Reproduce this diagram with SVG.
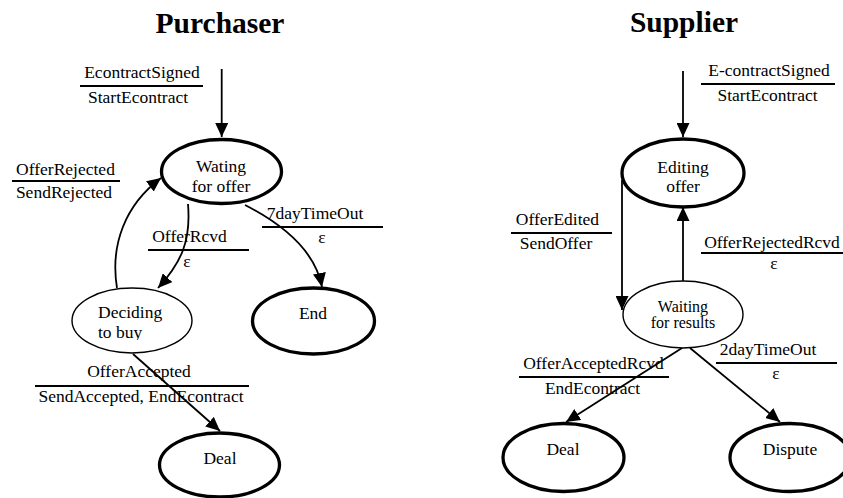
<svg xmlns="http://www.w3.org/2000/svg" width="843" height="498" viewBox="0 0 843 498">
<style>
text{font-family:"Liberation Serif","Times New Roman",serif;font-size:17.5px;fill:#000}
.title{font-size:29.5px;font-weight:bold;text-anchor:middle}
.c{text-anchor:middle}
.thick{fill:#fff;stroke:#000;stroke-width:3.3}
.thin{fill:#fff;stroke:#000;stroke-width:1.4}
.edge{fill:none;stroke:#000;stroke-width:1.8;marker-end:url(#ah)}
.bar{stroke:#000;stroke-width:2}
</style>
<defs>
<marker id="ah" markerUnits="userSpaceOnUse" markerWidth="15" markerHeight="13" refX="14" refY="6.5" orient="auto">
<path d="M0,0 L14,6.5 L0,13 z" fill="#000"/>
</marker>
<clipPath id="clipbuy"><rect x="60" y="280" width="150" height="60"/></clipPath>
</defs>
<rect width="843" height="498" fill="#fff"/>
<text class="title" x="220" y="33">Purchaser</text>
<text class="title" x="684" y="32">Supplier</text>

<g id="connectors">
<path class="edge" d="M221.7,69 L221.7,137"/>
<path class="edge" d="M188,204 C191,240 182,262 158,288"/>
<path class="edge" d="M117,288 C110,245 125,205 161,178"/>
<path class="edge" d="M245,205 C290,228 316,255 322,287"/>
<path class="edge" d="M133,354 L220,431"/>
<path class="edge" d="M683,71 L683,137"/>
<path class="edge" d="M622,180 L622,310"/>
<path class="edge" d="M683,281 L683,207"/>
<path class="edge" d="M682,348 L566,422"/>
<path class="edge" d="M690,348 L780,422"/>
</g>

<g id="node-wating">
<ellipse class="thick" cx="221.5" cy="171.5" rx="60" ry="32"/>
<text class="c" x="221" y="172">Wating</text>
<text class="c" x="221" y="192">for offer</text>
</g>
<g id="node-deciding">
<ellipse class="thin" cx="132" cy="320.5" rx="60" ry="32.5"/>
<g clip-path="url(#clipbuy)">
<text x="98" y="318">Deciding</text>
<text x="98" y="338">to buy</text>
</g>
</g>
<g id="node-end">
<ellipse class="thick" cx="313.5" cy="321" rx="61" ry="33"/>
<text class="c" x="313" y="319">End</text>
</g>
<g id="node-deal-p">
<ellipse class="thick" cx="219.5" cy="465" rx="60" ry="32"/>
<text class="c" x="220" y="464">Deal</text>
</g>

<g id="node-editing">
<ellipse class="thick" cx="683" cy="173" rx="61" ry="34"/>
<text class="c" x="683" y="173">Editing</text>
<text class="c" x="683" y="192">offer</text>
</g>
<g id="node-waiting">
<ellipse class="thin" cx="683" cy="314.5" rx="60" ry="33.5"/>
<text class="c" x="683" y="312" style="font-size:16px">Waiting</text>
<text class="c" x="683" y="328" style="font-size:16px">for results</text>
</g>
<g id="node-deal-s">
<ellipse class="thick" cx="563.5" cy="457.5" rx="60.5" ry="34"/>
<text class="c" x="563" y="455">Deal</text>
</g>
<g id="node-dispute">
<ellipse class="thick" cx="790" cy="457.5" rx="60" ry="34"/>
<text class="c" x="790" y="455">Dispute</text>
</g>

<g id="labels">
<text class="c" x="142" y="78">EcontractSigned</text>
<line class="bar" x1="80" y1="86" x2="203" y2="86"/>
<text class="c" x="138" y="103">StartEcontract</text>

<text class="c" x="65.5" y="175">OfferRejected</text>
<line class="bar" x1="12" y1="181" x2="120" y2="181"/>
<text class="c" x="64" y="198">SendRejected</text>

<text class="c" x="315" y="219">7dayTimeOut</text>
<line class="bar" x1="262" y1="227" x2="383" y2="227"/>
<text class="c" x="322" y="243">ε</text>

<text class="c" x="189.5" y="242">OfferRcvd</text>
<line class="bar" x1="148" y1="250" x2="249" y2="250"/>
<text class="c" x="187" y="267">ε</text>

<text class="c" x="139" y="377">OfferAccepted</text>
<line class="bar" x1="35" y1="386" x2="249" y2="386"/>
<text class="c" x="141" y="402">SendAccepted, EndEcontract</text>

<text class="c" x="769" y="76">E-contractSigned</text>
<line class="bar" x1="701" y1="84" x2="835" y2="84"/>
<text class="c" x="767.5" y="101">StartEcontract</text>

<text class="c" x="557.5" y="225">OfferEdited</text>
<line class="bar" x1="511" y1="233" x2="612" y2="233"/>
<text class="c" x="556" y="249">SendOffer</text>

<text class="c" x="772" y="248">OfferRejectedRcvd</text>
<line class="bar" x1="701" y1="253" x2="843" y2="253"/>
<text class="c" x="774" y="269">ε</text>

<text class="c" x="593.5" y="369">OfferAcceptedRcvd</text>
<line class="bar" x1="519" y1="377" x2="669" y2="377"/>
<text class="c" x="592.5" y="394">EndEcontract</text>

<text class="c" x="768" y="355">2dayTimeOut</text>
<line class="bar" x1="716" y1="363" x2="837" y2="363"/>
<text class="c" x="776" y="379">ε</text>
</g>
</svg>
